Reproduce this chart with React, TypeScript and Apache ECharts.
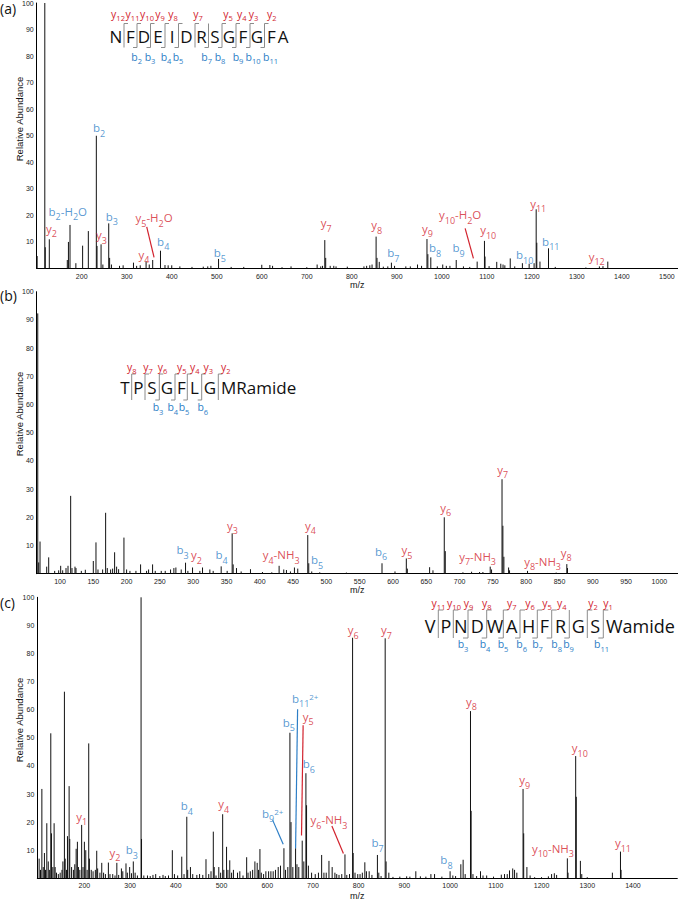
import React, { useEffect, useRef } from 'react';
import * as echarts from 'echarts';

// ---------------- DATA ----------------
// Panel (a) peaks: [m/z, relative abundance]
const peaksA: number[][] = [
  [101, 4.7], [118, 100], [119, 8], [128, 11], [168, 3.2], [170.5, 10], [174, 16.4], [187, 2], [202, 8.6],
  [214.7, 14.1], [232.5, 50], [234, 8.5], [243, 9.1], [247, 1.5], [260, 17], [262, 4], [266, 1.5], [284, 1],
  [292, 1.2], [315, 2.2], [322, 1], [330, 1.2], [343, 2.7], [350, 1.5], [357.7, 3.2], [375, 6.7], [385, 1.3],
  [392, 1.2], [400, 1.2], [418, 0.8], [445, 0.6], [470, 0.7], [480, 0.8], [487, 1], [504, 3.6], [532, 0.6],
  [560, 0.6], [600, 1.4], [618, 1.3], [624, 1], [645, 0.5], [665, 0.8], [700, 0.5], [723, 1.5], [731, 0.8],
  [735, 1], [740, 10.7], [742, 4], [752, 1], [760, 1], [765, 0.8], [790, 0.7], [827, 0.8], [833, 1], [840, 1.2],
  [845, 1.5], [854, 12], [856, 4], [861, 2.5], [870, 0.7], [880, 0.8], [888, 2.2], [895, 1], [920, 0.8],
  [930, 0.8], [946, 1.5], [955, 1], [967, 11.1], [969, 5.4], [975.5, 4.2], [990, 0.8], [1002, 1.5], [1010, 1],
  [1018, 1], [1032, 3.2], [1048, 0.8], [1062, 0.6], [1078.5, 2.6], [1094.7, 10.4], [1096, 4.5], [1105, 0.9],
  [1122, 2.5], [1131, 1.8], [1136, 1.5], [1140, 1.2], [1152, 3.8], [1162, 0.8], [1179, 2], [1194, 1.8],
  [1205, 2], [1209.6, 22.3], [1211, 9.7], [1218, 2.6], [1237, 7.6], [1252, 0.6], [1320, 0.4], [1350, 0.8],
  [1358, 0.9], [1368.7, 2.6],
];

// Panel (b) peaks
const peaksB: number[][] = [
  [66.6, 92.3], [68, 4], [70, 11.4], [80, 2.5], [83, 5.8], [92, 1], [98, 1.2], [101, 2.8], [104, 1.2], [109, 2],
  [112, 2.8], [116, 27.6], [118, 2], [122.5, 2.5], [124, 2], [132, 1], [138, 1.4], [150, 4.5], [154, 11.1],
  [157, 1.5], [164, 1.5], [168.5, 21.6], [171, 2], [176, 1.5], [179, 1.8], [182, 7.6], [185, 2.5], [188, 1.6],
  [196, 12.8], [200, 1.5], [205, 1], [214, 1], [221, 3.3], [230, 1], [233, 1.5], [239, 3.3], [243, 1], [252, 1],
  [258, 1], [266, 1.5], [271, 2], [274, 2.2], [282, 1.5], [288.5, 3.9], [292, 1], [299, 2.2], [310, 1], [314, 2.2],
  [325, 1.5], [330, 1], [342, 2.6], [351, 1], [358.5, 14.3], [360, 3.3], [365, 2], [372, 0.8], [386, 1.6],
  [404, 0.6], [418, 0.5], [429, 2.8], [436, 1.5], [440, 1.3], [446, 0.8], [452, 2.2], [457, 1.8], [472, 13.7],
  [473.5, 3.7], [478, 0.8], [490, 0.5], [530, 0.4], [583.5, 3.7], [603, 0.8], [620, 5.4], [621.5, 1.8],
  [655, 2.3], [660, 1.2], [677, 20], [678.5, 8], [705, 0.5], [718, 0.7], [730, 0.6], [735, 0.6], [746, 2.5],
  [748, 1.5], [763.7, 33.5], [765, 17], [766.5, 6], [773.6, 2.2], [775, 1.2], [802, 1], [845, 0.4], [861, 3.4],
  [862, 2],
];

// Panel (c) peaks
const peaksC: number[][] = [
  [101, 7], [104, 3], [107, 31.8], [110, 4], [112.6, 9], [115, 3], [117.8, 19.6], [121, 6], [124, 3],
  [126.5, 51.6], [128, 16], [131, 4], [133.8, 19.6], [136, 4], [139, 2], [143, 1.5], [147, 2], [151, 3], [153, 6],
  [156.3, 66.4], [158, 7], [161, 3], [163, 15], [166.6, 32.8], [168, 14], [172, 4], [176, 3], [179, 5],
  [182, 10.5], [184.7, 13], [187, 4], [190, 3], [194, 19], [197, 4], [200, 13], [203, 10], [206, 3], [209.5, 48],
  [211, 7], [215, 3], [219, 2.5], [224, 3], [227, 9.8], [229, 3.5], [234, 2], [238, 5.5], [242, 2], [246, 1.5],
  [252.5, 5.6], [256, 1.5], [262, 1.5], [267, 1], [271, 5.5], [275, 1.2], [281, 3.5], [284, 2.5], [291, 5.3],
  [294, 2], [299, 4], [303, 1.8], [307, 6], [311, 2], [316, 1], [324, 100], [325, 14], [330, 1], [338, 1],
  [344, 0.8], [350, 1.2], [356, 1.5], [365, 0.8], [372, 1.2], [377, 0.8], [384, 1], [392.4, 10], [397, 1.5],
  [404, 1], [413, 7.7], [418, 1.5], [424, 21.9], [426, 3], [432, 4], [437, 1.5], [446, 1.2], [452, 1.5],
  [459, 1.2], [466, 6.8], [472, 1.5], [477, 2.5], [482, 16.6], [484, 4], [488, 1], [494, 4], [498, 2],
  [502.5, 22.8], [505, 3], [511, 11.2], [514, 3], [518, 6.4], [522, 2], [526, 3], [535, 2], [540, 2.5], [547, 1],
  [555, 7.5], [558, 2], [563, 2.5], [568, 3], [573, 6], [578, 5.5], [581, 3], [584, 10.4], [587, 2], [592, 1.5],
  [597, 2.5], [603, 2.5], [608, 2.5], [613, 2.5], [618, 3], [624, 4], [629, 4.5], [636.5, 10.7], [640, 3],
  [645, 4], [649.6, 51.8], [652, 20], [656, 4], [662, 10.7], [665, 5], [669, 4], [676.5, 13.4], [680, 6],
  [684.6, 37.4], [686, 26], [690, 4.5], [697, 2], [705, 1.5], [712, 2], [719, 8.3], [724, 2], [729, 2],
  [735, 6.2], [742, 4], [748, 2], [752, 1.5], [757, 1.2], [763, 1.5], [770, 8.5], [774, 1.2], [780, 1.5],
  [786.7, 85.6], [788, 9], [792, 2], [798, 1.5], [803, 1.5], [808, 2], [813.5, 5.7], [817, 2.5], [823, 2.5],
  [829, 1.2], [841, 8.3], [844, 2], [849, 0.8], [858, 85.4], [860, 6], [866, 2], [875, 0.5], [890, 0.6],
  [905, 0.7], [912, 0.6], [925, 2.5], [935, 0.7], [947, 0.6], [958, 1.5], [966, 1.5], [982, 0.6], [1000, 2.5],
  [1006, 1], [1012, 0.8], [1023.5, 5], [1028.5, 6.6], [1033, 1.5], [1044.6, 59.5], [1046, 24], [1050, 1.5],
  [1058, 0.8], [1066.5, 2.5], [1072, 1], [1080, 1], [1095, 0.6], [1112, 1.3], [1119, 1.5], [1125, 1.5],
  [1130, 2.8], [1137, 3.5], [1141, 3], [1146, 2], [1159.6, 31.8], [1161, 16], [1168, 4], [1175, 1], [1185, 0.4],
  [1200, 0.4], [1215, 0.7], [1222, 1.5], [1228, 1.8], [1233, 1.2], [1256.5, 7.1], [1258, 2], [1274.7, 43.5],
  [1276, 29], [1285, 6.2], [1288, 1.5], [1300, 0.4], [1355, 2], [1372.7, 9.5], [1374, 3],
];

// Ion annotations: [label ("_" = subscript, "^" = superscript), m/z, abundance]
const labelsA: [string, number, number][] = [
  ['y_2', 133, 14.5], ['b_2-H_2O', 169, 20.8], ['b_2', 238.5, 52.2], ['y_3', 244, 12], ['b_3', 266.7, 18.9],
  ['y_5-H_2O', 360.7, 18.3], ['y_4', 338.4, 4.7], ['b_4', 381, 9.5], ['b_5', 507, 5.1], ['y_7', 743, 16.4],
  ['y_8', 855.5, 15.7], ['b_7', 892.5, 5.1], ['y_9', 968, 14.5], ['b_8', 985, 7], ['b_9', 1037, 7],
  ['y_10-H_2O', 1040.7, 19.5], ['y_10', 1103, 13.9], ['b_10', 1184, 4.4], ['y_11', 1214, 23.9],
  ['b_11', 1242, 9.5], ['y_12', 1344, 3.8],
];
const labelsB: [string, number, number][] = [
  ['b_3', 284, 7.8], ['y_2', 305, 6], ['b_4', 342.5, 6], ['y_3', 359, 16.4], ['y_4-NH_3', 432, 6],
  ['y_4', 476, 16.4], ['b_5', 486, 4.3], ['b_6', 582, 7.2], ['y_5', 621, 7.8], ['y_6', 679, 22.8],
  ['y_7-NH_3', 727, 5.5], ['y_7', 764.6, 36.4], ['y_8-NH_3', 824.6, 3.7], ['y_8', 860, 6.9],
];
const labelsC: [string, number, number][] = [
  ['y_1', 194.3, 21.4], ['y_2', 267, 8.5], ['b_3', 303.6, 9.5], ['b_4', 424, 25.1], ['y_4', 505, 25.8],
  ['b_9^2+', 612, 22.5], ['b_5', 647.4, 54.8], ['b_11^2+', 683, 63.4], ['y_5', 689.6, 57], ['b_6', 691, 40],
  ['y_6-NH_3', 735, 20.2], ['y_6', 788, 87.8], ['y_7', 861, 87.8], ['b_7', 841.3, 11.9], ['b_8', 992, 5.9],
  ['y_8', 1046.8, 62.3], ['y_9', 1163, 34.4], ['y_10-NH_3', 1225, 10], ['y_10', 1283.6, 45.7],
  ['y_11', 1378, 11.9],
];

// Leader lines: [ion type, [m/z, abundance] start, end]
const leadersA: [string, number[], number[]][] = [
  ['y', [344.4, 15.7], [360.7, 4.2]],
  ['y', [1051.8, 15.1], [1070.2, 3.8]],
];
const leadersB: [string, number[], number[]][] = [];
const leadersC: [string, number[], number[]][] = [
  ['b', [611.8, 20.7], [635, 12.1]],
  ['b', [666.4, 60.2], [662, 10.7]],
  ['y', [678.5, 54.5], [675, 15.2]],
  ['y', [741.4, 18.6], [766.6, 8.8]],
];

// Axis ticks
const xTicksA = [200, 300, 400, 500, 600, 700, 800, 900, 1000, 1100, 1200, 1300, 1400, 1500];
const xTicksB = [100, 150, 200, 250, 300, 350, 400, 450, 500, 550, 600, 650, 700, 750, 800, 850, 900, 950, 1000];
const xTicksC = [200, 300, 400, 500, 600, 700, 800, 900, 1000, 1100, 1200, 1300, 1400];
const yTicks = [10, 20, 30, 40, 50, 60, 70, 80, 90, 100];

// Sequences: residues, y-ion number and b-ion number at each cleavage (null = not observed)
const seqA = ['N', 'F', 'D', 'E', 'I', 'D', 'R', 'S', 'G', 'F', 'G', 'F', 'A'];
const seqAy = [12, 11, 10, 9, 8, 7, null, 5, 4, 3, 2, null];
const seqAb = [null, 2, 3, 4, 5, null, 7, 8, 9, 10, 11, null];
const seqB = ['T', 'P', 'S', 'G', 'F', 'L', 'G', 'MRamide'];
const seqBy = [8, 7, 6, 5, 4, 3, 2];
const seqBb = [null, null, 3, 4, 5, 6, null];
const seqC = ['V', 'P', 'N', 'D', 'W', 'A', 'H', 'F', 'R', 'G', 'S', 'Wamide'];
const seqCy = [11, 10, 9, 8, 7, 6, 5, 4, null, 2, 1];
const seqCb = [null, null, 3, 4, 5, 6, 7, 8, 9, null, 11];

const panelTitles = ['(a)', '(b)', '(c)'];
const yName = 'Relative Abundance';
const xName = 'm/z';

// ---------------- LAYOUT / STYLE ----------------
const RED = '#d2232e';
const BLUE = '#2d7ec6';
const GRAY = '#8c8c8c';
const SEQ_FONT = '"Open Sans", "Noto Sans", sans-serif';
const AX_FONT = '"Liberation Sans", Arial, sans-serif';

const mkRich = (c: string, p: string, m: number, s: number, lh: number) => ({
  [p + 'm']: { color: c, fill: c, fontSize: m, lineHeight: lh, verticalAlign: 'top', fontFamily: SEQ_FONT },
  [p + 's']: { color: c, fill: c, fontSize: s, lineHeight: s, verticalAlign: 'bottom', fontFamily: SEQ_FONT },
  [p + 'p']: { color: c, fill: c, fontSize: s - 1, lineHeight: s - 1, verticalAlign: 'top', fontFamily: SEQ_FONT },
});
const RICH: any = { ...mkRich(RED, 'r', 11.5, 9, 16), ...mkRich(BLUE, 'b', 11.5, 9, 16) };
const RICH_SEQ: any = { ...mkRich(RED, 'r', 10.5, 7.5, 14), ...mkRich(BLUE, 'b', 10.5, 7.5, 14) };

function toRich(s: string): string {
  const c = s[0] === 'y' ? 'r' : 'b';
  let out = '';
  let buf = '';
  const flush = () => {
    if (buf) {
      out += `{${c}m|${buf}}`;
      buf = '';
    }
  };
  let i = 0;
  while (i < s.length) {
    const ch = s[i];
    if (ch === '_' || ch === '^') {
      flush();
      let j = i + 1;
      let g = '';
      while (j < s.length && /[0-9+]/.test(s[j])) {
        g += s[j];
        j++;
      }
      out += `{${c}${ch === '_' ? 's' : 'p'}|${g}}`;
      i = j;
    } else {
      buf += ch;
      i++;
    }
  }
  flush();
  return out;
}

const seqLayouts = [
  {
    letters: seqA, yIons: seqAy, bIons: seqAb, fontSize: 17, cy: 36, top: 23.5, bot: 47.5, hook: 4,
    yLabY: 15, bLabY: 58,
    letterX: [116, 130.5, 144, 158, 172, 186.5, 201.5, 215, 229, 243, 257, 271.5, 283],
    cutX: [124, 137, 150.5, 165, 178.5, 195, 208.5, 222, 236, 250, 264.5, null],
    yLabX: [118, 132.5, 147, 160, 173, 198, null, 228, 241.7, 253.5, 271.7, null],
    bLabX: [null, 136.7, 150, 166, 178, null, 206.7, 220, 238, 253, 270.5, null],
    tailLeft: null as number | null,
  },
  {
    letters: seqB, yIons: seqBy, bIons: seqBb, fontSize: 17, cy: 387, top: 374, bot: 400, hook: 4,
    yLabY: 368, bLabY: 408.5,
    letterX: [125, 138.3, 152, 167, 181.3, 194.5, 210],
    cutX: [131.7, 145, 159.3, 175, 187.3, 201.7, 218.3],
    yLabX: [131.7, 148, 162.5, 181.7, 194.7, 208.3, 225.8],
    bLabX: [null, null, 158, 172.8, 184, 202.8, null],
    tailLeft: 221,
  },
  {
    letters: seqC, yIons: seqCy, bIons: seqCb, fontSize: 18, cy: 626, top: 610, bot: 638, hook: 5,
    yLabY: 604, bLabY: 645.5,
    letterX: [430, 445.8, 460.7, 477.3, 495, 511.7, 528.7, 544.5, 560.5, 578.3, 595.3],
    cutX: [438.3, 453.3, 468, 486.7, 503.3, 520, 537.3, 551.7, 569.3, 587.3, 603.3],
    yLabX: [438.5, 454, 468.5, 486.7, 511.7, 530, 547, 561.7, null, 593, 608],
    bLabX: [null, null, 463, 485, 503, 521.7, 537.5, 556.7, 568.5, null, 601.5],
    tailLeft: 606,
  },
];

function seqGraphics(L: any): any[] {
  const els: any[] = [];
  const n = L.tailLeft != null ? L.letters.length - 1 : L.letters.length;
  for (let i = 0; i < n; i++) {
    els.push({
      type: 'text', x: L.letterX[i], y: L.cy, silent: true,
      style: {
        text: L.letters[i], fill: '#111', fontSize: L.fontSize, fontFamily: SEQ_FONT,
        align: 'center', verticalAlign: 'middle', textAlign: 'center', textVerticalAlign: 'middle',
      },
    });
  }
  if (L.tailLeft != null) {
    els.push({
      type: 'text', x: L.tailLeft, y: L.cy, silent: true,
      style: {
        text: L.letters[L.letters.length - 1], fill: '#111', fontSize: L.fontSize, fontFamily: SEQ_FONT,
        align: 'left', verticalAlign: 'middle', textAlign: 'left', textVerticalAlign: 'middle',
      },
    });
  }
  for (let k = 0; k < L.cutX.length; k++) {
    const x = L.cutX[k];
    const yi = L.yIons[k];
    const bi = L.bIons[k];
    if (x == null || (yi == null && bi == null)) continue;
    const pts: number[][] = [];
    if (yi != null) pts.push([x + L.hook, L.top]);
    pts.push([x, L.top]);
    pts.push([x, L.bot]);
    if (bi != null) pts.push([x - L.hook, L.bot]);
    els.push({ type: 'polyline', silent: true, shape: { points: pts }, style: { stroke: GRAY, lineWidth: 1, fill: null } });
    if (yi != null && L.yLabX[k] != null) {
      els.push({
        type: 'text', x: L.yLabX[k], y: L.yLabY, silent: true,
        style: { text: toRich('y_' + yi), rich: RICH_SEQ, fill: RED, align: 'center', verticalAlign: 'middle', textAlign: 'center', textVerticalAlign: 'middle' },
      });
    }
    if (bi != null && L.bLabX[k] != null) {
      els.push({
        type: 'text', x: L.bLabX[k], y: L.bLabY, silent: true,
        style: { text: toRich('b_' + bi), rich: RICH_SEQ, fill: BLUE, align: 'center', verticalAlign: 'middle', textAlign: 'center', textVerticalAlign: 'middle' },
      });
    }
  }
  return els;
}

const grids = [
  { left: 36.7, top: 3, width: 641, height: 265.5 },
  { left: 36.7, top: 291.7, width: 641, height: 282 },
  { left: 37.3, top: 597.3, width: 640, height: 281 },
];
const xRanges = [[100, 1524], [65, 1027.5], [97, 1497]];
const xTicks = [xTicksA, xTicksB, xTicksC];
const nameGaps = [11, 10, 13];
const titleY = [8, 295, 602];
const yNameCenter = [119, 414, 720];

export default function App() {
  const ref = useRef<HTMLDivElement>(null);
  useEffect(() => {
    if (!ref.current) return;
    const chart = echarts.init(ref.current, undefined, { renderer: 'svg' });
    const peaks = [peaksA, peaksB, peaksC];
    const labels = [labelsA, labelsB, labelsC];
    const leaders = [leadersA, leadersB, leadersC];
    const series: any[] = [];
    for (let i = 0; i < 3; i++) {
      series.push({
        type: 'custom', xAxisIndex: i, yAxisIndex: i, data: peaks[i], encode: { x: 0, y: 1 }, silent: true, z: 2,
        renderItem: (_p: any, api: any) => {
          const x = api.value(0);
          const y = api.value(1);
          const a = api.coord([x, 0]);
          const b = api.coord([x, y]);
          return { type: 'line', shape: { x1: a[0], y1: a[1], x2: b[0], y2: b[1] }, style: { stroke: '#111', lineWidth: 1 } };
        },
      });
      series.push({
        type: 'scatter', xAxisIndex: i, yAxisIndex: i, symbolSize: 1, silent: true, z: 5,
        itemStyle: { color: 'rgba(0,0,0,0)' },
        emphasis: { disabled: true },
        data: labels[i].map(([t, x, y]) => ({ value: [x, y], rt: toRich(t) })),
        label: { show: true, position: 'inside', formatter: (p: any) => p.data.rt, rich: RICH },
      });
      leaders[i].forEach(([t, s, e]) => {
        series.push({
          type: 'line', xAxisIndex: i, yAxisIndex: i, data: [s, e], symbol: 'none', silent: true, z: 4,
          lineStyle: { color: t === 'y' ? RED : BLUE, width: 1.2 },
        });
      });
    }
    const graphics: any[] = [];
    for (let i = 0; i < 3; i++) {
      graphics.push({
        type: 'text', x: 0, y: titleY[i], silent: true,
        style: { text: panelTitles[i], fill: '#111', fontSize: 14, fontFamily: SEQ_FONT, align: 'left', verticalAlign: 'middle', textAlign: 'left', textVerticalAlign: 'middle' },
      });
      graphics.push({
        type: 'text', x: 19, y: yNameCenter[i], rotation: Math.PI / 2, silent: true,
        style: { text: yName, fill: '#111', fontSize: 9.5, fontFamily: AX_FONT, align: 'center', verticalAlign: 'middle', textAlign: 'center', textVerticalAlign: 'middle' },
      });
      graphics.push(...seqGraphics(seqLayouts[i]));
    }
    const option: any = {
      animation: false,
      backgroundColor: '#fff',
      grid: grids.map((g) => ({ ...g, containLabel: false, outerBoundsMode: 'none' })),
      xAxis: grids.map((_g, i) => ({
        gridIndex: i, type: 'value', min: xRanges[i][0], max: xRanges[i][1],
        axisLine: { show: true, onZero: false, lineStyle: { color: '#000', width: 1 } },
        axisTick: { show: false }, splitLine: { show: false },
        axisLabel: {
          show: true, customValues: xTicks[i], fontSize: 7, color: '#222', margin: 4, fontFamily: AX_FONT,
          formatter: (v: number) => String(v),
        },
        name: xName, nameLocation: 'middle', nameGap: nameGaps[i],
        nameTextStyle: { fontSize: 9, color: '#111', fontFamily: AX_FONT },
      })),
      yAxis: grids.map((_g, i) => ({
        gridIndex: i, type: 'value', min: 0, max: 100,
        axisLine: { show: true, lineStyle: { color: '#000', width: 1 } },
        axisTick: { show: false }, splitLine: { show: false },
        axisLabel: {
          show: true, customValues: yTicks, fontSize: 7, color: '#222', margin: 3, fontFamily: AX_FONT,
          formatter: (v: number) => String(v),
        },
      })),
      series,
      graphic: { elements: graphics },
    };
    chart.setOption(option);
    return () => chart.dispose();
  }, []);
  return <div ref={ref} style={{ position: 'absolute', left: 0, top: 0, width: 678, height: 900, background: '#fff' }} />;
}
